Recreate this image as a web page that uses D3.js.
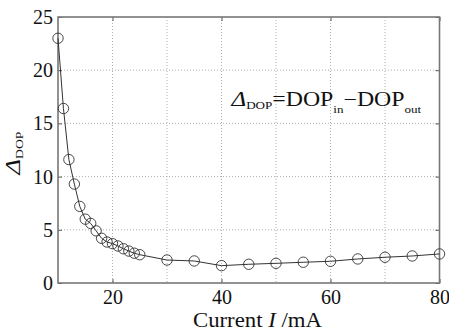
<!DOCTYPE html>
<html><head><meta charset="utf-8">
<script src="https://cdn.jsdelivr.net/npm/d3@7"></script>
<style>body{margin:0;background:#fff}svg{display:block}</style>
</head><body><svg id="c" width="449" height="333"></svg>
<script>
const currents = [10,11,12,13,14,15,16,17,18,19,20,21,22,23,24,25,30,35,40,45,50,55,60,65,70,75,80];
const deltaDOP = [23.0,16.4,11.6,9.3,7.2,6.0,5.6,4.9,4.2,3.85,3.7,3.48,3.22,3.0,2.8,2.66,2.16,2.07,1.63,1.76,1.85,1.95,2.04,2.26,2.42,2.54,2.73];
const xTickLabels = [20,40,60,80];
const yTickLabels = [0,5,10,15,20,25];
const xGrid = [20,30,40,50,60,70];
const yGrid = [5,10,15,20];

const FONT = "'Liberation Serif', 'Times New Roman', serif";
const svg = d3.select("#c");
const m = {l:58, r:439.5, t:17, b:283};
const x = d3.scaleLinear().domain([10,80]).range([m.l,m.r]);
const y = d3.scaleLinear().domain([0,25]).range([m.b,m.t]);

// grid
svg.append("g").selectAll("line").data(xGrid).join("line")
  .attr("x1",d=>x(d)).attr("x2",d=>x(d)).attr("y1",m.t).attr("y2",m.b)
  .attr("stroke","#999").attr("stroke-width",0.8).attr("stroke-dasharray","1,2");
svg.append("g").selectAll("line").data(yGrid).join("line")
  .attr("y1",d=>y(d)).attr("y2",d=>y(d)).attr("x1",m.l).attr("x2",m.r)
  .attr("stroke","#999").attr("stroke-width",0.8).attr("stroke-dasharray","1,2");

// axes with inward ticks
svg.append("g").attr("transform",`translate(0,${m.b})`)
  .call(d3.axisBottom(x).tickValues(xTickLabels).tickSize(-4).tickPadding(7).tickFormat(d3.format("d")));
svg.append("g").attr("transform",`translate(${m.l},0)`)
  .call(d3.axisLeft(y).tickValues(yTickLabels).tickSize(-4).tickPadding(5).tickFormat(d3.format("d")));
svg.append("g").attr("transform",`translate(0,${m.t})`)
  .call(d3.axisTop(x).tickValues(xTickLabels).tickSize(-4).tickFormat(""));
svg.append("g").attr("transform",`translate(${m.r},0)`)
  .call(d3.axisRight(y).tickValues(yTickLabels).tickSize(-4).tickFormat(""));
svg.selectAll(".domain").remove();
svg.selectAll(".tick line").attr("stroke","#555");
svg.selectAll(".tick text").attr("font-size",20);

// frame
svg.append("rect").attr("x",m.l).attr("y",m.t).attr("width",m.r-m.l).attr("height",m.b-m.t)
  .attr("fill","none").attr("stroke","#777").attr("stroke-width",1.6);

// line + markers
const pts = currents.map((c,i)=>[c,deltaDOP[i]]);
svg.append("path").datum(pts)
  .attr("d",d3.line().x(d=>x(d[0])).y(d=>y(d[1])))
  .attr("fill","none").attr("stroke","#333").attr("stroke-width",1);
svg.append("g").selectAll("circle").data(pts).join("circle")
  .attr("cx",d=>x(d[0])).attr("cy",d=>y(d[1])).attr("r",5.2)
  .attr("fill","none").attr("stroke","#333").attr("stroke-width",0.9);

// x label
const xl = svg.append("text").attr("transform","translate(257.5,327) scale(1.14,1)")
  .attr("text-anchor","middle").attr("font-size",20);
xl.append("tspan").text("Current ");
xl.append("tspan").attr("font-style","italic").text("I");
xl.append("tspan").text(" /mA");

// y label
const yl = svg.append("text").attr("transform","translate(20,153) rotate(-90) scale(1.25,1)")
  .attr("text-anchor","middle").attr("font-size",21);
yl.append("tspan").attr("font-style","italic").text("Δ");
yl.append("tspan").attr("font-size",11).attr("dy",3).text("DOP");

// annotation
const an = svg.append("text").attr("transform","translate(231.5,106) scale(1.19,1)").attr("font-size",20);
an.append("tspan").attr("font-style","italic").attr("font-size",21).text("Δ");
an.append("tspan").attr("font-size",11).attr("dy",2.5).text("DOP");
an.append("tspan").attr("dy",-2.5).text("=DOP");
an.append("tspan").attr("font-size",11).attr("dy",7).text("in");
an.append("tspan").attr("dy",-7).text("−DOP");
an.append("tspan").attr("font-size",11).attr("dy",7).text("out");

svg.selectAll("g").attr("font-family",null);
svg.selectAll("text").style("font-family",FONT).style("fill","#111");
</script></body></html>
